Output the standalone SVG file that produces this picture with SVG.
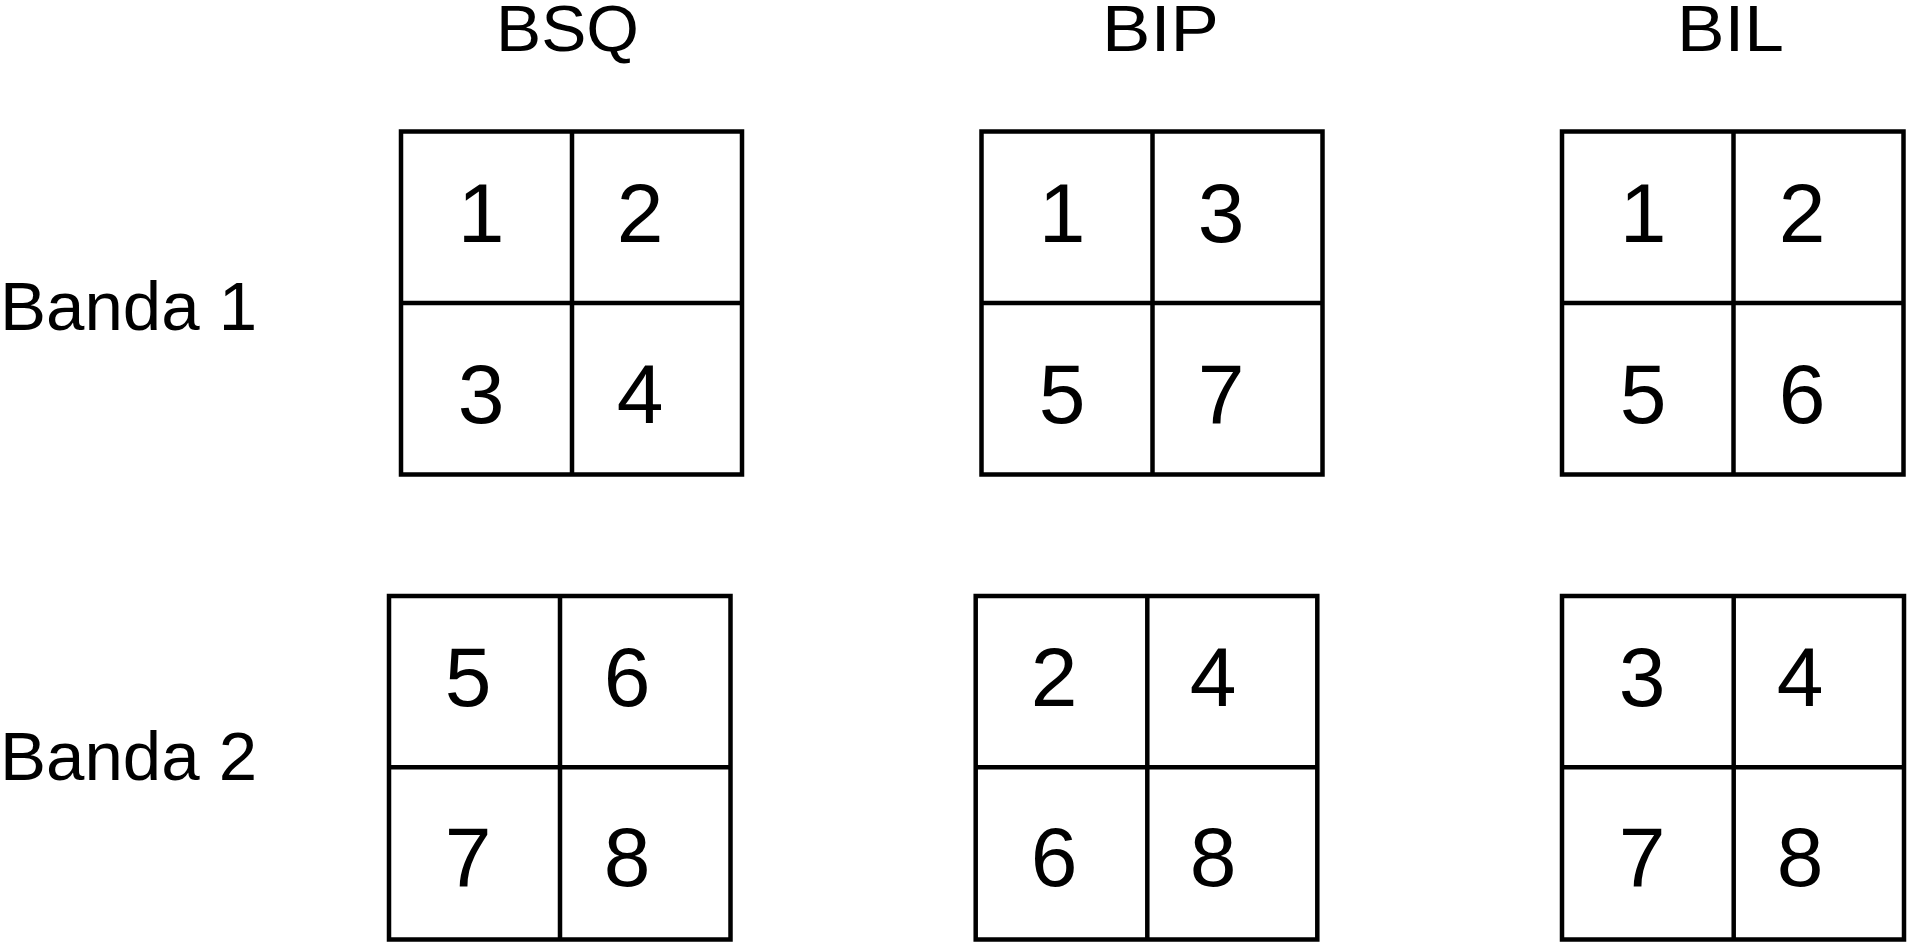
<svg xmlns="http://www.w3.org/2000/svg" width="1907" height="942" viewBox="0 0 1907 942">
<style>
.box{fill:none;stroke:#000;stroke-width:4.5}
.ln{stroke:#000;stroke-width:4.5}
.num{font-family:"Liberation Sans",Arial,sans-serif;font-size:84px;fill:#000;text-anchor:middle}
.ttl{font-family:"Liberation Sans",Arial,sans-serif;font-size:65px;fill:#000}
.lbl{font-family:"Liberation Sans",Arial,sans-serif;font-size:69px;fill:#000}
</style>
<rect width="1907" height="942" fill="#fff"/>
<g id="titles">
<text class="ttl" x="496" y="51" textLength="143" lengthAdjust="spacingAndGlyphs">BSQ</text>
<text class="ttl" x="1102" y="51" textLength="117" lengthAdjust="spacingAndGlyphs">BIP</text>
<text class="ttl" x="1677" y="51" textLength="107" lengthAdjust="spacingAndGlyphs">BIL</text>
</g>
<g id="row-labels">
<text class="lbl" x="0" y="330">Banda 1</text>
<text class="lbl" x="0" y="780">Banda 2</text>
</g>
<g id="bsq-banda1">
<rect class="box" x="401" y="131.5" width="341" height="343"/>
<line class="ln" x1="572" y1="131.5" x2="572" y2="474.5"/>
<line class="ln" x1="401" y1="303" x2="742" y2="303"/>
<text class="num" x="481" y="242">1</text>
<text class="num" x="640" y="242">2</text>
<text class="num" x="481" y="423">3</text>
<text class="num" x="640" y="423">4</text>
</g>
<g id="bip-banda1">
<rect class="box" x="981.5" y="131.5" width="341" height="343"/>
<line class="ln" x1="1152.5" y1="131.5" x2="1152.5" y2="474.5"/>
<line class="ln" x1="981.5" y1="303" x2="1322.5" y2="303"/>
<text class="num" x="1062" y="242">1</text>
<text class="num" x="1221" y="242">3</text>
<text class="num" x="1062" y="423">5</text>
<text class="num" x="1221" y="423">7</text>
</g>
<g id="bil-banda1">
<rect class="box" x="1562" y="131.5" width="341.5" height="343"/>
<line class="ln" x1="1733.5" y1="131.5" x2="1733.5" y2="474.5"/>
<line class="ln" x1="1562" y1="303" x2="1903.5" y2="303"/>
<text class="num" x="1643" y="242">1</text>
<text class="num" x="1802" y="242">2</text>
<text class="num" x="1643" y="423">5</text>
<text class="num" x="1802" y="423">6</text>
</g>
<g id="bsq-banda2">
<rect class="box" x="389" y="596" width="341.5" height="343.5"/>
<line class="ln" x1="560" y1="596" x2="560" y2="939.5"/>
<line class="ln" x1="389" y1="767.3" x2="730.5" y2="767.3"/>
<text class="num" x="468" y="706">5</text>
<text class="num" x="627" y="706">6</text>
<text class="num" x="468" y="886">7</text>
<text class="num" x="627" y="886">8</text>
</g>
<g id="bip-banda2">
<rect class="box" x="975.7" y="596" width="341.6" height="343.5"/>
<line class="ln" x1="1147.3" y1="596" x2="1147.3" y2="939.5"/>
<line class="ln" x1="975.7" y1="767.3" x2="1317.3" y2="767.3"/>
<text class="num" x="1054" y="706">2</text>
<text class="num" x="1213" y="706">4</text>
<text class="num" x="1054" y="886">6</text>
<text class="num" x="1213" y="886">8</text>
</g>
<g id="bil-banda2">
<rect class="box" x="1562" y="596" width="342" height="343.5"/>
<line class="ln" x1="1733.7" y1="596" x2="1733.7" y2="939.5"/>
<line class="ln" x1="1562" y1="767.3" x2="1904" y2="767.3"/>
<text class="num" x="1642" y="706">3</text>
<text class="num" x="1800" y="706">4</text>
<text class="num" x="1642" y="886">7</text>
<text class="num" x="1800" y="886">8</text>
</g>
<g id="connectors"></g>
</svg>
